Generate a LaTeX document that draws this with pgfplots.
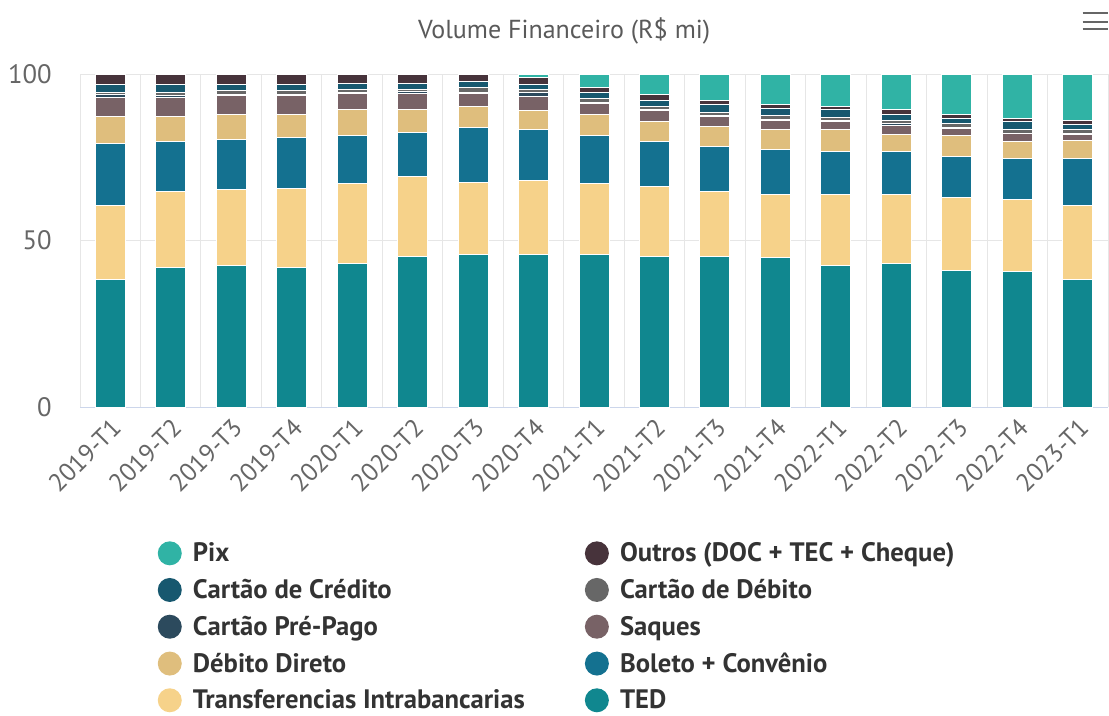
\documentclass[border=0pt]{standalone}
\usepackage{pgfplots}
\pgfplotsset{compat=1.18}
\usepackage{pgfplotstable}
\usepackage{fontspec}
\setmainfont{PT Sans}
\definecolor{cTED}{HTML}{10878F}
\definecolor{cTransf}{HTML}{F6D28A}
\definecolor{cBoleto}{HTML}{147190}
\definecolor{cDD}{HTML}{DFBE7D}
\definecolor{cSaques}{HTML}{786266}
\definecolor{cPP}{HTML}{2C4A5D}
\definecolor{cCD}{HTML}{676767}
\definecolor{cCC}{HTML}{17586F}
\definecolor{cOutros}{HTML}{47333B}
\definecolor{cPix}{HTML}{30B3A5}
\definecolor{gridc}{HTML}{E6E6E6}
\definecolor{axisc}{HTML}{CCD6EB}
\definecolor{tickc}{HTML}{666666}
\definecolor{titlec}{HTML}{5A5A5A}
\definecolor{legc}{HTML}{333333}

\pgfplotstableread{
x TED Transf Boleto DD Saques PP CD CC Outros Pix
0 38.3 22.2 18.6 8.2 5.7 0.7 0.8 2.3 3.2 0
1 41.8 22.8 15.2 7.5 5.7 0.5 0.9 2.4 3.2 0
2 42.5 22.8 14.9 7.6 5.8 0.3 1.1 1.8 3.2 0
3 41.8 23.8 15.2 7.0 5.8 0.3 1.1 1.8 3.2 0
4 43.2 23.8 14.6 7.7 4.9 0.2 1.0 1.6 3.0 0
5 45.3 23.8 13.4 6.8 4.8 0.5 0.7 1.7 3.0 0
6 45.9 21.4 16.7 6.1 4.1 0.3 1.5 1.8 2.2 0
7 45.9 22.2 15.2 5.8 4.1 1.1 0.9 1.6 2.1 1.1
8 45.9 21.1 14.6 6.1 3.4 0.2 1.3 1.8 1.6 4.0
9 45.3 21.0 13.5 5.9 3.3 0.4 0.8 1.7 1.8 6.3
10 45.3 19.3 13.7 5.9 3.1 0.1 1.0 2.4 1.1 8.1
11 44.8 19.1 13.4 5.9 2.9 0.2 1.2 2.0 1.3 9.2
12 42.5 21.4 12.9 6.4 2.4 0.4 0.8 2.4 1.0 9.8
13 43.2 20.7 12.8 5.1 2.6 0.6 1.1 1.7 1.4 10.8
14 41.0 21.8 12.3 6.5 2.1 0.1 1.2 1.7 1.1 12.2
15 40.8 21.4 12.5 5.1 2.2 0.1 1.2 2.3 1.1 13.3
16 38.3 22.2 14.2 5.3 1.8 0.2 1.3 1.6 1.1 14.0
}\datatable

\begin{document}
\begin{tikzpicture}
\useasboundingbox (0pt,0pt) rectangle (831.75pt,-537pt);
\begin{axis}[
  at={(60pt,-305.25pt)}, anchor=south west,
  scale only axis, width=771pt, height=249.75pt,
  ybar stacked, bar width=22.5pt,
  xmin=-0.5, xmax=16.5, ymin=0, ymax=100,
  xtick={0,...,16},
  xticklabels={2019-T1,2019-T2,2019-T3,2019-T4,2020-T1,2020-T2,2020-T3,2020-T4,2021-T1,2021-T2,2021-T3,2021-T4,2022-T1,2022-T2,2022-T3,2022-T4,2023-T1},
  minor xtick={-0.5,0.5,...,16.5},
  xminorgrids,
  minor x grid style={draw=gridc, line width=0.75pt},
  ytick={0,50,100},
  ymajorgrids,
  major y grid style={draw=gridc, line width=0.75pt},
  separate axis lines,
  axis x line*=bottom,
  axis y line*=left,
  x axis line style={draw=axisc, line width=0.75pt, -},
  y axis line style={draw=none},
  major tick length=0pt,
  tick style={draw=none},
  /pgf/number format/assume math mode=true,
  y tick label style={font=\fontsize{20}{24}\selectfont, text=tickc, inner sep=0pt, anchor=east, xshift=-21pt},
  x tick label style={font=\fontsize{19}{23}\selectfont, text=tickc, inner sep=0pt, xshift=4.8pt, yshift=-12.3pt, rotate=45, anchor=east},
  title={Volume Financeiro (R\$ mi)},
  title style={at={(axis description cs:0.471,1.105)}, anchor=center, font=\fontsize{19.5}{23}\selectfont, text=titlec},
  every axis plot/.append style={draw=white, line width=0.75pt},
  legend columns=2,
  reverse legend,
  legend cell align=left,
  legend image code/.code={\fill[#1, draw=none] (0pt,0pt) circle (9pt); \path (15pt,0pt);},
  legend style={draw=none, fill=none, font=\bfseries\fontsize{20}{24}\selectfont, text=legc,
    at={(axis description cs:0.0715,-0.391)}, anchor=north west,
    row sep=7.6pt,
    /tikz/every even column/.append style={column sep=43pt}},
]
\addplot[fill=cTED] table[x=x, y=TED] {\datatable};
\addlegendentry{TED}
\addplot[fill=cTransf] table[x=x, y=Transf] {\datatable};
\addlegendentry{Transferencias Intrabancarias}
\addplot[fill=cBoleto] table[x=x, y=Boleto] {\datatable};
\addlegendentry{Boleto + Convênio}
\addplot[fill=cDD] table[x=x, y=DD] {\datatable};
\addlegendentry{Débito Direto}
\addplot[fill=cSaques] table[x=x, y=Saques] {\datatable};
\addlegendentry{Saques}
\addplot[fill=cPP] table[x=x, y=PP] {\datatable};
\addlegendentry{Cartão Pré-Pago}
\addplot[fill=cCD] table[x=x, y=CD] {\datatable};
\addlegendentry{Cartão de Débito}
\addplot[fill=cCC] table[x=x, y=CC] {\datatable};
\addlegendentry{Cartão de Crédito}
\addplot[fill=cOutros] table[x=x, y=Outros] {\datatable};
\addlegendentry{Outros (DOC + TEC + Cheque)}
\addplot[fill=cPix] table[x=x, y=Pix] {\datatable};
\addlegendentry{Pix}
\end{axis}
\draw[tickc, line width=1.3pt] (812pt,-10pt) -- (831pt,-10pt);
\draw[tickc, line width=1.3pt] (812pt,-16.3pt) -- (831pt,-16.3pt);
\draw[tickc, line width=1.3pt] (812pt,-22pt) -- (831pt,-22pt);
\end{tikzpicture}
\end{document}
